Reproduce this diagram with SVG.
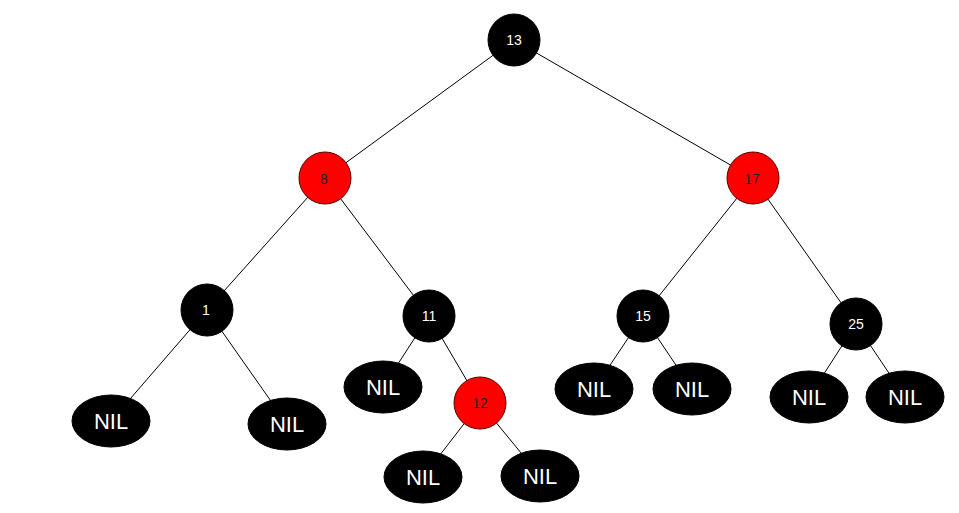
<svg xmlns="http://www.w3.org/2000/svg" width="959" height="513" viewBox="0 0 959 513">
<style>
.edge{stroke:#000;stroke-width:1;fill:none}
.b{fill:#000;stroke:#000;stroke-width:1}
.r{fill:#ff0000;stroke:#5a0000;stroke-width:1}
.tw{fill:#fff;font-family:"Liberation Sans",Arial,sans-serif;font-size:14px;text-anchor:middle;dominant-baseline:central}
.tr{fill:#222;font-family:"Liberation Sans",Arial,sans-serif;font-size:14px;text-anchor:middle;dominant-baseline:central}
.nil{fill:#fff;font-family:"Liberation Sans",Arial,sans-serif;font-size:22px;text-anchor:middle;dominant-baseline:central}
</style>
<rect width="959" height="513" fill="#fff"/>
<g id="connectors">
<line class="edge" x1="514" y1="40" x2="325" y2="178"/>
<line class="edge" x1="514" y1="40" x2="753" y2="178"/>
<line class="edge" x1="325" y1="178" x2="207" y2="310"/>
<line class="edge" x1="325" y1="178" x2="429" y2="316"/>
<line class="edge" x1="753" y1="178" x2="643" y2="316"/>
<line class="edge" x1="753" y1="178" x2="856" y2="324"/>
<line class="edge" x1="207" y1="310" x2="111" y2="421"/>
<line class="edge" x1="207" y1="310" x2="287" y2="424"/>
<line class="edge" x1="429" y1="316" x2="383" y2="387"/>
<line class="edge" x1="429" y1="316" x2="480" y2="403"/>
<line class="edge" x1="480" y1="403" x2="423" y2="477"/>
<line class="edge" x1="480" y1="403" x2="540" y2="476"/>
<line class="edge" x1="643" y1="316" x2="594" y2="389"/>
<line class="edge" x1="643" y1="316" x2="692" y2="389"/>
<line class="edge" x1="856" y1="324" x2="809" y2="397"/>
<line class="edge" x1="856" y1="324" x2="905" y2="397"/>
</g>
<g id="n13"><circle class="b" cx="514" cy="40" r="26"/><text class="tw" x="514" y="40">13</text></g>
<g id="n8"><circle class="r" cx="325" cy="178" r="26"/><text class="tr" x="324" y="179">8</text></g>
<g id="n17"><circle class="r" cx="753" cy="178" r="26"/><text class="tr" x="752" y="179">17</text></g>
<g id="n1"><circle class="b" cx="207" cy="310" r="26"/><text class="tw" x="206" y="310">1</text></g>
<g id="n11"><circle class="b" cx="429" cy="316" r="26"/><text class="tw" x="429" y="316">11</text></g>
<g id="n15"><circle class="b" cx="643" cy="316" r="26"/><text class="tw" x="643" y="316">15</text></g>
<g id="n25"><circle class="b" cx="856" cy="324" r="26"/><text class="tw" x="856" y="324">25</text></g>
<g id="n12"><circle class="r" cx="480" cy="403" r="26"/><text class="tr" x="480" y="403">12</text></g>
<g id="nil1"><ellipse class="b" cx="111" cy="421" rx="39" ry="26"/><text class="nil" x="111" y="421">NIL</text></g>
<g id="nil2"><ellipse class="b" cx="287" cy="424" rx="39" ry="26"/><text class="nil" x="287" y="424">NIL</text></g>
<g id="nil3"><ellipse class="b" cx="383" cy="387" rx="39" ry="26"/><text class="nil" x="383" y="387">NIL</text></g>
<g id="nil4"><ellipse class="b" cx="423" cy="477" rx="39" ry="26"/><text class="nil" x="423" y="477">NIL</text></g>
<g id="nil5"><ellipse class="b" cx="540" cy="476" rx="39" ry="26"/><text class="nil" x="540" y="476">NIL</text></g>
<g id="nil6"><ellipse class="b" cx="594" cy="389" rx="39" ry="26"/><text class="nil" x="594" y="389">NIL</text></g>
<g id="nil7"><ellipse class="b" cx="692" cy="389" rx="39" ry="26"/><text class="nil" x="692" y="389">NIL</text></g>
<g id="nil8"><ellipse class="b" cx="809" cy="397" rx="39" ry="26"/><text class="nil" x="809" y="397">NIL</text></g>
<g id="nil9"><ellipse class="b" cx="905" cy="397" rx="39" ry="26"/><text class="nil" x="905" y="397">NIL</text></g>
</svg>
